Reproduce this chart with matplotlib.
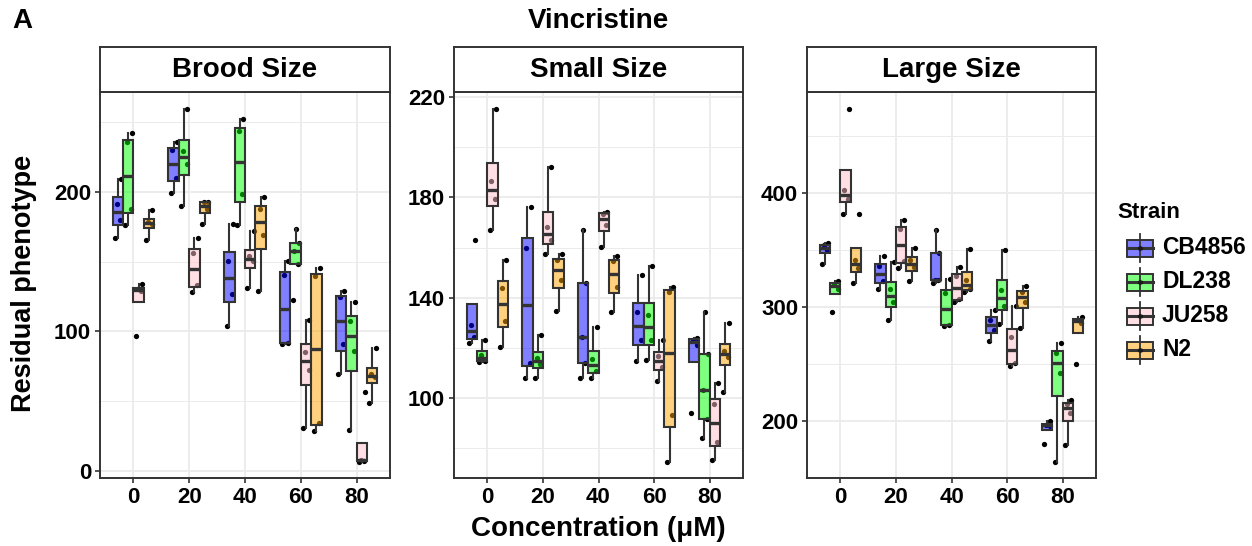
import numpy as np
import matplotlib
matplotlib.use('Agg')
import matplotlib.pyplot as plt
from matplotlib.colors import to_rgba
from matplotlib.patches import Rectangle

plt.rcParams['font.family'] = ['Liberation Sans', 'DejaVu Sans']
plt.rcParams['font.weight'] = 'bold'

concentrations = ['0', '20', '40', '60', '80']
strains = ['CB4856', 'DL238', 'JU258', 'N2']
traits = ['Brood Size', 'Small Size', 'Large Size']
strain_colors = ['#0000FF', '#00FF00', '#FFC0CB', '#FFA500']

# residual phenotype per strain, one list per concentration
brood_cb4856 = [[167, 179.6, 191.6, 209.6], [199.3, 210.3, 230, 236], [104.1, 126.5, 150.8, 176.7],
                [91, 92, 140.2, 150.8], [69.3, 91.1, 124.5, 129.3]]
brood_dl238 = [[176, 187.5, 236, 242], [189.7, 219.9, 229.5, 259.5], [176, 198.8, 243.9, 252],
               [122.8, 148, 158, 163.5, 173.6], [29.3, 86.1, 107.7, 120.9]]
brood_ju258 = [[96.6, 129.2, 130.5, 134], [128.1, 133.6, 156.1, 167.1], [131.2, 150.4, 154, 171.9],
               [31, 72.2, 85.4, 108.2], [6.5, 7.4, 7.8, 56.6]]
brood_n2 = [[165.2, 176.7, 178.2, 186.8], [176.7, 188, 192.5, 193], [129.3, 168.8, 187.5, 196.4],
            [28.5, 34.5, 140, 145.6], [49, 67.4, 69.3, 88]]

small_cb4856 = [[121.9, 124.1, 129.1, 162.9], [107.9, 114.1, 159.9, 176.2], [107.9, 114.1, 124.1, 145.8, 167.1],
                [114.8, 123.1, 134.2, 149.2], [94, 121.2, 123.2, 123.7]]
small_dl238 = [[114.5, 114.8, 117, 123.1], [107.9, 113.5, 116.1, 125.1], [107.9, 110.8, 115.5, 128.2],
               [115, 123.1, 133.1, 152.6], [84.1, 91.5, 103.2, 117.5, 134.2]]
small_ju258 = [[167.1, 179.5, 186.6, 215.2], [157.5, 162.9, 168.2, 192], [160.2, 168.9, 173.5, 174.2],
               [106.8, 112.4, 116.8, 123.2], [75, 82.5, 97.4, 106.1]]
small_n2 = [[120.1, 130.8, 143.8, 155.1], [134.8, 147, 155, 157.5], [134.2, 144.4, 154.6, 156.8],
            [74.5, 93.2, 142.4, 144.4], [102.4, 116.5, 118.8, 129.9]]

large_cb4856 = [[337.8, 350.1, 354, 356], [315.8, 322.6, 335.5, 344.6], [320.8, 323.2, 324, 347.2, 367.7],
                [270.4, 279.8, 288.6, 297.4], [180, 195.5, 196.5, 200]]
large_dl238 = [[295.9, 316, 320, 322.6], [288.9, 304.1, 315.8, 339.3], [283.6, 284.2, 311.8, 324.6],
               [285, 301.2, 315, 350.1], [164.2, 241.6, 259.5, 268]]
large_ju258 = [[381.8, 395, 402.3, 473.3], [334, 340.2, 368.6, 376], [304.7, 307, 327, 334.9],
               [248.4, 250.4, 274, 301.2], [178.6, 207.3, 214.7, 218.2]]
large_n2 = [[321.1, 334.4, 341.2, 381.8], [322.6, 334.9, 340.8, 351.9], [312.9, 315.5, 323.5, 351],
            [281.5, 304.6, 312.9, 318.8], [249.9, 286.2, 288.6, 291.5]]

panel_data = [
    [brood_cb4856, brood_dl238, brood_ju258, brood_n2],
    [small_cb4856, small_dl238, small_ju258, small_n2],
    [large_cb4856, large_dl238, large_ju258, large_n2],
]
y_limits = [(-5, 271.6), (68, 222.1), (149.9, 488.6)]
y_ticks = [[0, 100, 200], [100, 140, 180, 220], [200, 300, 400]]

W, H = 1252, 546
fig = plt.figure(figsize=(W / 100, H / 100), dpi=100)


def frac(x0, y0, x1, y1):
    return [x0 / W, 1 - y1 / H, (x1 - x0) / W, (y1 - y0) / H]


edge = '#333333'
grid = '#EBEBEB'
dodge = 0.75 / 4
jit = [-0.05, 0.045, -0.02, 0.06, 0.01]
panel_x = [(100, 390), (454, 743), (807, 1096)]

for p, (x0, x1) in enumerate(panel_x):
    ax = fig.add_axes(frac(x0, 92, x1, 478))
    ax.set_xlim(0.4, 5.6)
    ax.set_ylim(*y_limits[p])
    ticks = y_ticks[p]
    step = ticks[1] - ticks[0]
    minor = np.arange(ticks[0] - step / 2, y_limits[p][1], step)
    for m in minor:
        ax.axhline(m, color=grid, lw=0.7, zorder=0)
    for t in ticks:
        ax.axhline(t, color=grid, lw=1.3, zorder=0)
    for i in range(len(concentrations)):
        ax.axvline(i + 1, color=grid, lw=1.3, zorder=0)

    for s, series in enumerate(panel_data[p]):
        pos = np.arange(1, len(concentrations) + 1) + (s - 1.5) * dodge
        for i, vals in enumerate(series):
            xs = [pos[i] + jit[j % len(jit)] for j in range(len(vals))]
            ax.plot(xs, vals, 'o', color='black', ms=3.8, mec='none', zorder=2)
        ax.boxplot(series, positions=pos, widths=dodge, patch_artist=True,
                   showfliers=False, showcaps=False, whis=1.5, manage_ticks=False,
                   boxprops=dict(facecolor=to_rgba(strain_colors[s], 0.5), edgecolor=edge, linewidth=1.5),
                   whiskerprops=dict(color=edge, linewidth=1.5),
                   medianprops=dict(color=edge, linewidth=2.4),
                   zorder=3)

    ax.set_xticks(np.arange(1, len(concentrations) + 1))
    ax.set_xticklabels(concentrations)
    ax.set_yticks(ticks)
    ax.tick_params(length=3.4, width=1.2, color=edge, labelsize=16, pad=3, labelcolor='black')
    for sp in ax.spines.values():
        sp.set_color(edge)
        sp.set_linewidth(1.4)

    strip = fig.add_axes(frac(x0, 47, x1, 92))
    strip.set_xticks([])
    strip.set_yticks([])
    for sp in strip.spines.values():
        sp.set_color(edge)
        sp.set_linewidth(1.4)
    strip.text(0.5, 0.48, traits[p], ha='center', va='center', fontsize=20, transform=strip.transAxes)

fig.text(22 / W, 1 - 21 / H, 'A', ha='center', va='center', fontsize=20)
fig.text(598 / W, 1 - 21 / H, 'Vincristine', ha='center', va='center', fontsize=20)
fig.text(598 / W, 1 - 529 / H, 'Concentration (μM)', ha='center', va='center', fontsize=20)
fig.text(24 / W, 1 - 283 / H, 'Residual phenotype', ha='center', va='center', rotation=90, fontsize=19.5)

# legend drawn in pixel space
lax = fig.add_axes([0, 0, 1, 1], zorder=-1)
lax.set_xlim(0, W)
lax.set_ylim(H, 0)
lax.axis('off')
lax.text(1117, 213, 'Strain', ha='left', va='center', fontsize=16)
for s, name in enumerate(strains):
    cy = 248 + s * 34
    lax.plot([1140, 1140], [cy - 14, cy + 14], color=edge, lw=1.3)
    lax.add_patch(Rectangle((1127, cy - 8.5), 26, 17, facecolor='white', edgecolor='none'))
    lax.add_patch(Rectangle((1127, cy - 8.5), 26, 17, facecolor=to_rgba(strain_colors[s], 0.5),
                            edgecolor=edge, lw=1.4))
    lax.plot([1127, 1153], [cy, cy], color=edge, lw=2.2)
    lax.plot(1140, cy, 'o', color='black', ms=3.8, mec='none', alpha=0.5)
    lax.text(1162, cy, name, ha='left', va='center', fontsize=16.5)

fig.savefig('out.png', dpi=100)
